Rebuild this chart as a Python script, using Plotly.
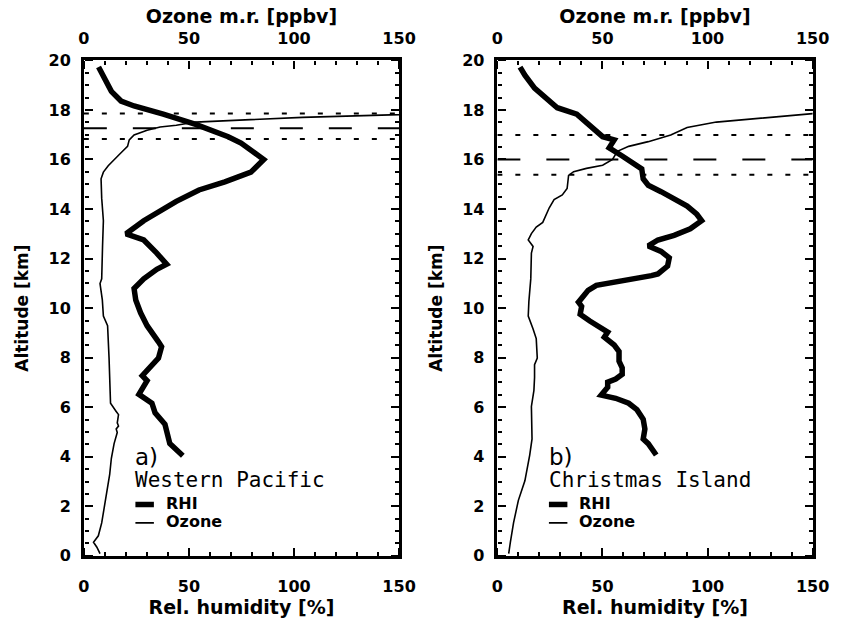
import plotly.graph_objects as go

# ---------------- data ----------------
# Panel a) Western Pacific
wp_rhi_alt = [19.73, 18.75, 18.36, 18.16, 17.83, 17.42, 16.92, 16.66, 16.0, 15.49, 15.1, 14.77,
              14.31, 13.53, 13.0, 12.75, 12.22, 11.77, 11.57, 11.18, 10.79, 10.33, 9.81, 9.29,
              8.64, 8.44, 7.98, 7.59, 7.27, 7.07, 6.81, 6.52, 6.16, 5.77, 5.31, 4.85, 4.53, 4.04]
wp_rhi = [7.0, 13.1, 17.7, 23.9, 37.8, 53.2, 68.7, 74.8, 85.6, 79.5, 67.1, 54.8,
          44.0, 28.5, 20.1, 28.5, 34.7, 39.4, 34.7, 28.5, 23.9, 24.7, 27.0, 30.1,
          35.5, 37.0, 35.5, 31.6, 27.8, 30.1, 28.5, 26.2, 32.4, 33.9, 38.6, 40.1, 40.9, 47.1]
wp_o3_alt = [17.88, 17.81, 17.70, 17.51, 17.38, 17.31, 17.18, 16.99, 16.79, 16.53, 16.27, 16.0,
             15.75, 15.49, 15.22, 14.44, 13.53, 12.49, 11.18, 10.99, 10.33, 9.68, 9.29, 7.98,
             7.07, 6.16, 5.83, 5.70, 5.37, 5.24, 5.12, 4.98, 4.53, 4.20, 3.94, 3.29, 2.77,
             2.11, 1.33, 0.81, 0.55, 0.35, 0.09]
wp_o3 = [165.0, 150.0, 104.0, 53.2, 44.0, 36.3, 30.1, 23.9, 21.6, 20.8, 17.7, 14.7,
         11.6, 9.3, 8.2, 8.5, 9.3, 8.9, 8.5, 7.7, 8.8, 9.3, 11.3, 12.0,
         12.3, 12.7, 15.4, 16.5, 15.9, 16.5, 15.4, 15.9, 14.4, 13.6, 13.1, 12.3, 11.3,
         10.0, 8.5, 6.9, 4.6, 6.2, 7.7]
wp_levels = [17.86, 17.26, 16.83]          # upper (dotted), middle (dashed), lower (dotted)
# Panel b) Christmas Island
ci_rhi_alt = [19.73, 19.40, 18.88, 18.42, 18.09, 17.83, 17.51, 16.92, 16.79, 16.60, 16.47, 16.14,
              15.81, 15.62, 15.22, 14.96, 14.70, 14.44, 14.12, 13.79, 13.53, 13.20, 12.94, 12.75,
              12.51, 12.29, 12.03, 11.70, 11.38, 11.31, 11.18, 11.05, 10.92, 10.72, 10.46, 10.24,
              10.07, 9.75, 9.48, 9.22, 9.03, 8.83, 8.51, 8.25, 7.86, 7.59, 7.33, 7.14, 7.01,
              6.81, 6.49, 6.36, 6.16, 5.90, 5.51, 5.12, 4.72, 4.53, 4.33, 4.07]
ci_rhi = [10.8, 13.1, 17.7, 23.9, 28.5, 37.8, 42.4, 50.1, 55.6, 54.0, 53.2, 59.4,
          65.6, 68.7, 69.4, 71.8, 77.9, 84.1, 90.3, 94.9, 97.2, 91.8, 84.1, 76.4,
          71.8, 77.9, 81.8, 81.0, 76.4, 73.3, 64.0, 54.8, 47.1, 43.2, 40.9, 38.6,
          40.1, 39.4, 44.0, 49.4, 52.5, 50.9, 55.6, 57.9, 57.9, 59.4, 59.4, 56.3, 52.5,
          52.5, 49.4, 56.3, 62.5, 66.4, 69.4, 70.2, 69.4, 71.8, 73.3, 75.6]
ci_o3_alt = [17.92, 17.85, 17.51, 17.29, 16.99, 16.72, 16.53, 16.33, 16.0, 15.77, 15.64, 15.51,
             15.36, 14.83, 14.57, 14.38, 14.05, 13.66, 13.46, 13.27, 13.01, 12.75, 12.49, 12.22,
             11.18, 10.27, 9.68, 9.16, 8.77, 7.98, 7.72, 7.20, 6.68, 6.03, 5.37, 4.72, 4.07,
             3.03, 2.24, 1.33, 0.55, 0.09]
ci_o3 = [165.0, 150.0, 104.2, 90.3, 82.5, 71.8, 62.5, 57.1, 54.8, 50.1, 42.4, 36.3,
         33.9, 33.2, 30.9, 27.0, 24.7, 22.4, 21.6, 18.5, 16.2, 14.7, 17.0, 16.2,
         15.9, 15.0, 14.7, 17.0, 18.5, 19.0, 17.7, 17.7, 17.4, 16.2, 16.2, 16.5, 15.4,
         13.1, 10.0, 7.7, 6.2, 5.4]
ci_levels = [16.99, 16.0, 15.38]
x_span = [0, 150]

# ---------------- layout ----------------
W, H = 851, 625
top_px, bot_px = 53, 564
ydom = [1 - bot_px / H, 1 - top_px / H]

FONT = "DejaVu Sans"
tickfont = dict(family=FONT, size=16, color="black", weight="bold")
xtitlefont = dict(family=FONT, size=19, color="black", weight="bold")
ytitlefont = dict(family=FONT, size=17, color="black", weight="bold")

panels = [
    dict(left=80, right=404, name="Western Pacific", tag="a)",
         rhi=(wp_rhi, wp_rhi_alt), o3=(wp_o3, wp_o3_alt), lv=wp_levels,
         ax=dict(xb="x", xt="x2", y="y", tb="x5", tt="x6", tl="y3", tr="y4")),
    dict(left=505, right=829, name="Christmas Island", tag="b)",
         rhi=(ci_rhi, ci_rhi_alt), o3=(ci_o3, ci_o3_alt), lv=ci_levels,
         ax=dict(xb="x3", xt="x4", y="y2", tb="x7", tt="x8", tl="y5", tr="y6")),
]


def key(a):
    return ("xaxis" if a[0] == "x" else "yaxis") + a[1:]


fig = go.Figure()
layout = dict(width=W, height=H, margin=dict(l=0, r=0, t=0, b=0), autosize=False,
              paper_bgcolor="white", plot_bgcolor="white", showlegend=False)
annotations, shapes = [], []

for p in panels:
    a = p["ax"]
    dom = [p["left"] / W, p["right"] / W]

    # tropopause-level lines (outer ones carry the inward-tick helper axes)
    lv_axes = [(a["tb"], a["tl"]), (a["xb"], a["y"]), (a["tt"], a["tr"])]
    for j, lv in enumerate(p["lv"]):
        fig.add_trace(go.Scatter(x=x_span, y=[lv, lv], mode="lines",
                                 xaxis=lv_axes[j][0], yaxis=lv_axes[j][1],
                                 line=dict(color="black", width=2,
                                           dash="23px,26px" if j == 1 else "5px,13px"),
                                 hoverinfo="skip"))
    fig.add_trace(go.Scatter(x=p["o3"][0], y=p["o3"][1], mode="lines", xaxis=a["xt"], yaxis=a["y"],
                             line=dict(color="black", width=1.6), name="Ozone"))
    fig.add_trace(go.Scatter(x=p["rhi"][0], y=p["rhi"][1], mode="lines", xaxis=a["xb"], yaxis=a["y"],
                             line=dict(color="black", width=5.5), name="RHI"))

    # labelled axes + frame
    layout[key(a["xb"])] = dict(range=[0, 150], domain=dom, anchor=a["y"], side="bottom",
                                tickmode="linear", tick0=0, dtick=50, tickfont=tickfont,
                                showgrid=False, zeroline=False, showline=True, mirror=True,
                                linewidth=2.5, linecolor="black", ticks="", ticklabelstandoff=14,
                                title=dict(text="Rel. humidity [%]", font=xtitlefont, standoff=4))
    layout[key(a["xt"])] = dict(range=[0, 150], domain=dom, anchor=a["y"], side="top",
                                overlaying=a["xb"], tickmode="linear", tick0=0, dtick=50,
                                tickfont=tickfont, showgrid=False, zeroline=False, showline=False,
                                ticks="", ticklabelstandoff=12,
                                title=dict(text="Ozone m.r. [ppbv]", font=xtitlefont, standoff=0))
    layout[key(a["y"])] = dict(range=[0, 20], domain=ydom, anchor=a["xb"], tickmode="linear",
                               tick0=0, dtick=2, tickfont=tickfont, showgrid=False, zeroline=False,
                               showline=True, mirror=True, linewidth=2.5, linecolor="black",
                               ticks="", ticklabelstandoff=7,
                               title=dict(text="Altitude [km]", font=ytitlefont, standoff=16))

    # tick-only helper axes: outside ticks of an axis placed on the opposite edge point inward
    tk = dict(ticks="outside", ticklen=8, tickwidth=2, tickcolor="black", showticklabels=False,
              showline=False, showgrid=False, zeroline=False, tickmode="linear", tick0=0)
    xminor = dict(ticks="outside", dtick=10, ticklen=4, tickwidth=2, tickcolor="black")
    yminor = dict(ticks="outside", dtick=0.5, ticklen=4, tickwidth=2, tickcolor="black")
    layout[key(a["tb"])] = dict(tk, range=[0, 150], domain=dom, anchor="free", position=ydom[0],
                                side="top", overlaying=a["xb"], dtick=50, minor=xminor)
    layout[key(a["tt"])] = dict(tk, range=[0, 150], domain=dom, anchor="free", position=ydom[1],
                                side="bottom", overlaying=a["xb"], dtick=50, minor=xminor)
    layout[key(a["tl"])] = dict(tk, range=[0, 20], domain=ydom, anchor="free", position=dom[0],
                                side="right", overlaying=a["y"], dtick=2, minor=yminor)
    layout[key(a["tr"])] = dict(tk, range=[0, 20], domain=ydom, anchor="free", position=dom[1],
                                side="left", overlaying=a["y"], dtick=2, minor=yminor)

    # in-panel legend block
    def px2x(px, p=p):
        return (px - p["left"]) * 150 / (p["right"] - p["left"])

    def py2y(py):
        return (bot_px - py) * 20 / (bot_px - top_px)

    annotations.append(dict(
        x=px2x(p["left"] + 52), y=py2y(499), xref=a["xb"], yref=a["y"],
        text="<span style='font-family:DejaVu Sans;font-size:23px'>" + p["tag"] + "</span><br>"
             + "<span style='font-size:21px'>" + p["name"] + "</span>",
        showarrow=False, xanchor="left", yanchor="bottom", align="left", borderpad=0,
        font=dict(family="DejaVu Sans Mono", size=17, color="black")))
    annotations.append(dict(x=px2x(p["left"] + 82), y=py2y(510), xref=a["xb"], yref=a["y"],
                            text="RHI", showarrow=False, xanchor="left", yanchor="middle",
                            font=tickfont))
    annotations.append(dict(x=px2x(p["left"] + 82), y=py2y(529), xref=a["xb"], yref=a["y"],
                            text="Ozone", showarrow=False, xanchor="left", yanchor="middle",
                            font=tickfont))
    shapes.append(dict(type="line", xref=a["xb"], yref=a["y"], x0=px2x(p["left"] + 53),
                       x1=px2x(p["left"] + 72), y0=py2y(511), y1=py2y(511),
                       line=dict(color="black", width=5.5)))
    shapes.append(dict(type="line", xref=a["xb"], yref=a["y"], x0=px2x(p["left"] + 53),
                       x1=px2x(p["left"] + 72), y0=py2y(530), y1=py2y(530),
                       line=dict(color="black", width=1.6)))

layout["annotations"] = annotations
layout["shapes"] = shapes
fig.update_layout(**layout)
fig.write_html("out.html")
